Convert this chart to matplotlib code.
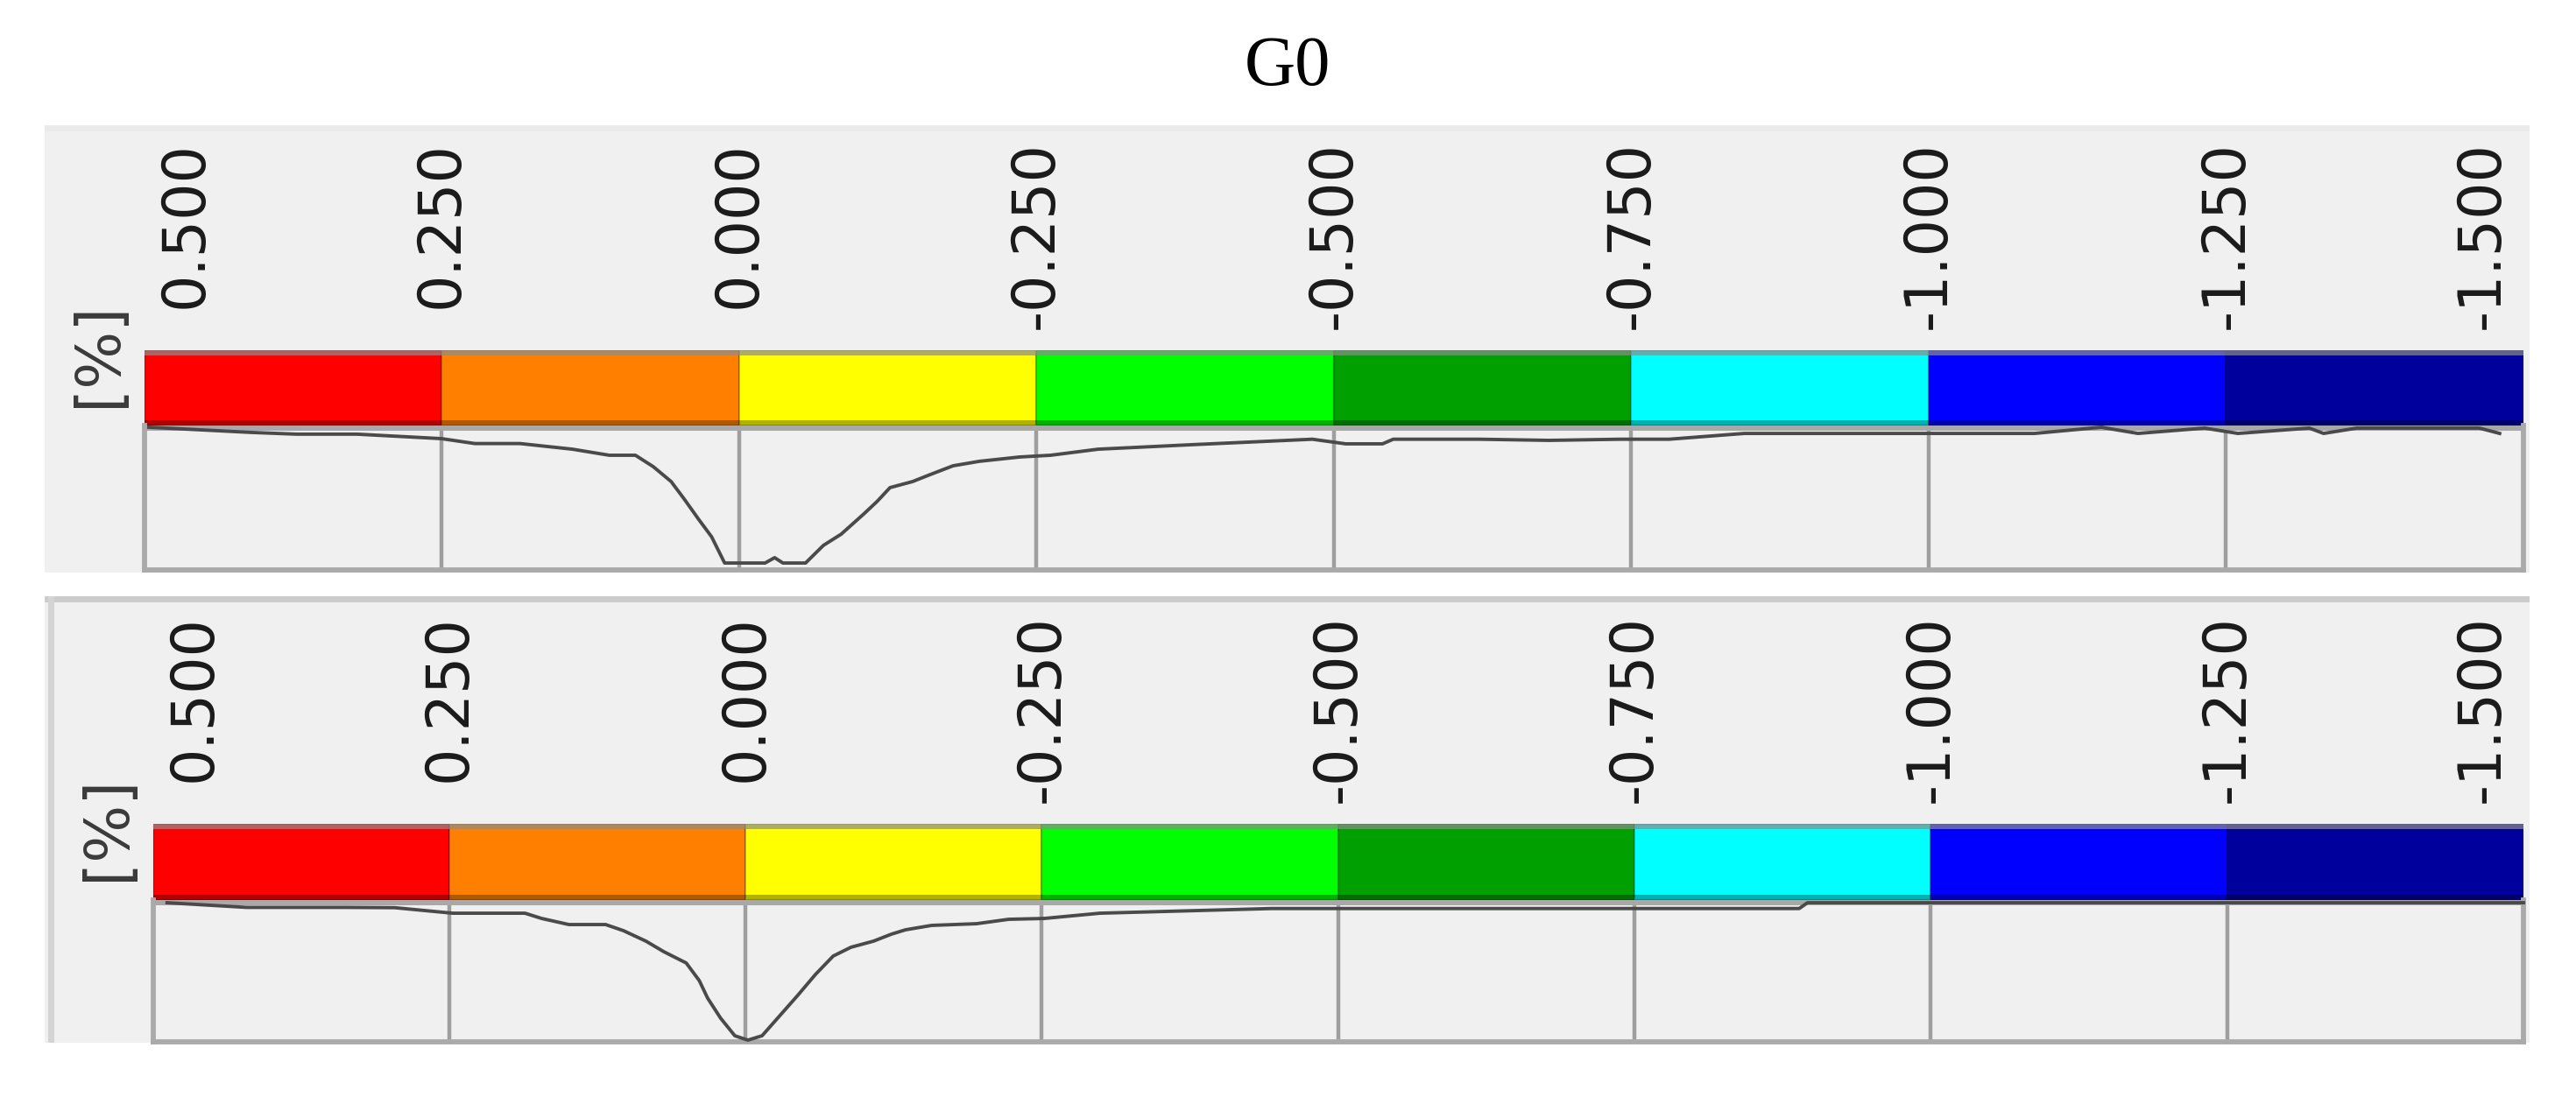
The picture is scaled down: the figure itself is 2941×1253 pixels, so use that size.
import matplotlib
matplotlib.use('Agg')
import matplotlib.pyplot as plt
from matplotlib.patches import Rectangle
from matplotlib.transforms import blended_transform_factory, offset_copy

W, H = 2941, 1253

title = 'G0'
unit_label = '[%]'
tick_values = [0.5, 0.25, 0.0, -0.25, -0.5, -0.75, -1.0, -1.25, -1.5]
tick_labels = ['0.500', '0.250', '0.000', '-0.250', '-0.500',
               '-0.750', '-1.000', '-1.250', '-1.500']
band_colors = ['#ff0000', '#ff8000', '#ffff00', '#00ff00',
               '#00a000', '#00ffff', '#0000ff', '#00009c']

# profile under the upper colour bar (x = deviation, y = relative height)
top_x = [0.496, 0.41, 0.372, 0.321, 0.25, 0.222, 0.184, 0.14, 0.109, 0.087,
         0.072, 0.057, 0.046, 0.034, 0.023, 0.012, -0.022, -0.03, -0.037,
         -0.056, -0.071, -0.086, -0.105, -0.116, -0.127, -0.146, -0.161,
         -0.18, -0.202, -0.236, -0.262, -0.302, -0.383, -0.482, -0.51,
         -0.541, -0.55, -0.622, -0.681, -0.741, -0.782, -0.845, -0.921,
         -1.089, -1.145, -1.176, -1.232, -1.26, -1.32, -1.332, -1.36,
         -1.463, -1.48]
top_y = [0.988, 0.952, 0.94, 0.94, 0.909, 0.875, 0.875, 0.836, 0.794, 0.794,
         0.715, 0.612, 0.491, 0.352, 0.23, 0.048, 0.048, 0.085, 0.048,
         0.048, 0.17, 0.248, 0.388, 0.473, 0.57, 0.612, 0.661,
         0.721, 0.752, 0.782, 0.794, 0.836, 0.868, 0.905, 0.873,
         0.873, 0.905, 0.905, 0.897, 0.905, 0.905, 0.945, 0.945,
         0.945, 0.988, 0.945, 0.982, 0.945, 0.982, 0.945, 0.982,
         0.982, 0.945]

# profile under the lower colour bar
bottom_x = [0.488, 0.421, 0.337, 0.296, 0.247, 0.186, 0.172, 0.149, 0.118,
            0.103, 0.084, 0.069, 0.05, 0.039, 0.032, 0.021, 0.009, -0.002,
            -0.014, -0.029, -0.044, -0.059, -0.074, -0.089, -0.108, -0.123,
            -0.135, -0.157, -0.195, -0.222, -0.252, -0.299, -0.444, -0.5,
            -0.889, -0.896, -1.148, -1.5]
bottom_y = [0.981, 0.948, 0.948, 0.946, 0.907, 0.907, 0.87, 0.827, 0.827,
            0.784, 0.71, 0.636, 0.556, 0.432, 0.309, 0.167, 0.043, 0.012,
            0.043, 0.185, 0.327, 0.475, 0.605, 0.667, 0.71, 0.759,
            0.79, 0.821, 0.833, 0.864, 0.87, 0.907, 0.94, 0.94,
            0.94, 0.981, 0.981, 0.981]

label_font = 'DejaVu Sans'
grid_gray = '#9e9e9e'


def frac(x0, y0, x1, y1):
    # pixel box (top-left origin) -> figure fraction rect
    return [x0 / W, 1 - y1 / H, (x1 - x0) / W, (y1 - y0) / H]


def fig_rect(fig, x0, y0, x1, y1, color):
    fig.add_artist(Rectangle((x0 / W, 1 - y1 / H), (x1 - x0) / W, (y1 - y0) / H,
                             transform=fig.transFigure, facecolor=color,
                             edgecolor='none', zorder=0))


def panel(fig, x0, bar_top, bar_bot, plot_bot, label_top, unit_xy, xs, ys):
    x1 = 2881
    # colour bar
    axb = fig.add_axes(frac(x0, bar_top, x1, bar_bot))
    centers = [(a + b) / 2 for a, b in zip(tick_values[:-1], tick_values[1:])]
    axb.bar(centers, 1, width=0.25, color=band_colors,
            edgecolor=(0, 0, 0, 0.22), linewidth=1.5)
    axb.axhspan(0.935, 1.0, color='#8c8c8c', alpha=0.7, lw=0)
    axb.axhspan(0.0, 0.065, color='black', alpha=0.3, lw=0)
    axb.set_xlim(0.5, -1.5)
    axb.set_ylim(0, 1)
    axb.axis('off')

    # rotated tick labels above the bar, top aligned
    trans = blended_transform_factory(axb.transData, fig.transFigure)
    ytxt = 1 - label_top / H
    n = len(tick_values)
    for i, (v, lab) in enumerate(zip(tick_values, tick_labels)):
        ha, tr = 'center', trans
        if i == 0:
            ha, tr = 'left', offset_copy(trans, fig=fig, x=14, units='dots')
        elif i == n - 1:
            ha, tr = 'right', offset_copy(trans, fig=fig, x=-14, units='dots')
        fig.text(v, ytxt, lab, transform=tr, rotation=90, ha=ha, va='top',
                 fontsize=48, family=label_font, color='#1a1a1a')

    fig.text(unit_xy[0] / W, 1 - unit_xy[1] / H, unit_label, rotation=90,
             ha='center', va='center', fontsize=50, family=label_font,
             color='#3a3a3a')

    # profile area
    ax = fig.add_axes(frac(x0, bar_bot, x1, plot_bot))
    ax.set_facecolor('none')
    ax.axhspan(0.964, 1.0, color='#a8a8a8', lw=0, zorder=1)
    ax.plot(xs, ys, color='#4a4a4a', lw=2.8, zorder=3, clip_on=False)
    ax.set_xlim(0.5, -1.5)
    ax.set_ylim(0, 1)
    ax.set_xticks(tick_values)
    ax.set_yticks([])
    ax.grid(axis='x', color=grid_gray, lw=3.2, zorder=0)
    ax.set_axisbelow(True)
    ax.tick_params(length=0, labelbottom=False)
    ax.spines['top'].set_visible(False)
    for s in ['left', 'right', 'bottom']:
        ax.spines[s].set_color('#aaaaaa')
        ax.spines[s].set_linewidth(4.2)


fig = plt.figure(figsize=(W / 100, H / 100), dpi=100)
fig.patch.set_facecolor('white')

# panel backgrounds
fig_rect(fig, 51, 143, 2888, 654, '#f0f0f0')
fig_rect(fig, 51, 143, 2888, 150, '#eaeaea')
fig_rect(fig, 51, 681, 2888, 1191, '#f0f0f0')
fig_rect(fig, 51, 681, 2888, 688, '#cccccc')
fig_rect(fig, 55, 681, 62, 1191, '#d4d4d4')

fig.text(1470 / W, 1 - 97 / H, title, ha='center', va='baseline',
         fontsize=58, family='Liberation Serif')

panel(fig, 164.5, 400, 486, 651, 161, (113, 405), top_x, top_y)
panel(fig, 174.5, 941, 1028, 1190, 702, (123, 946), bottom_x, bottom_y)

fig.savefig('out.png', dpi=100)
